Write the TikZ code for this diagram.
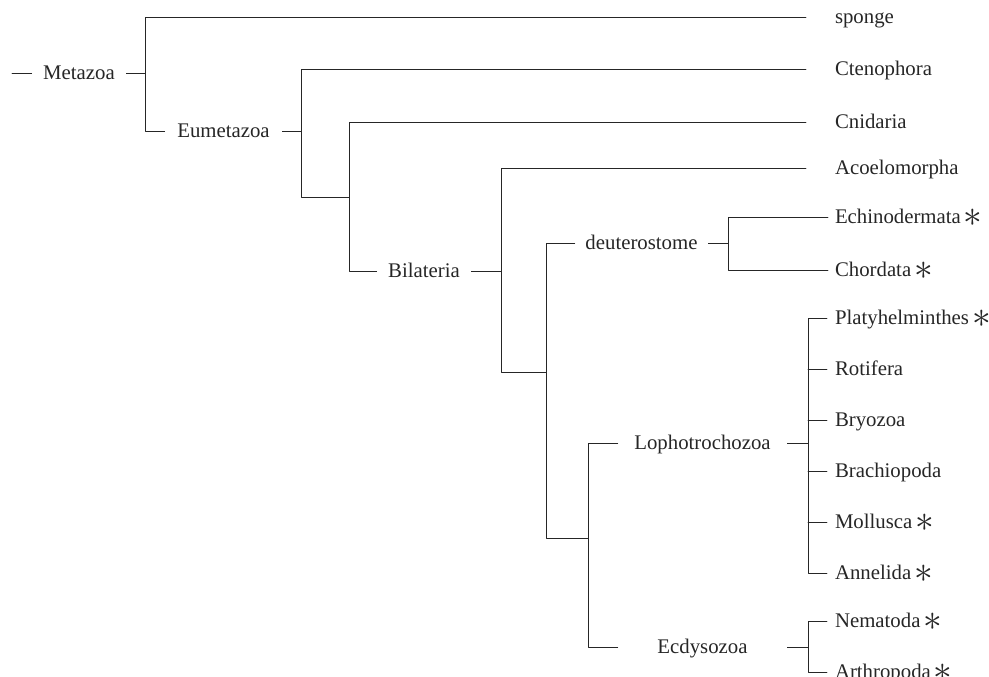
\documentclass[tikz,border=0pt]{standalone}
\usepackage{fontspec}
\setmainfont{Liberation Serif}
\tikzset{
	tip/.style={anchor=west, inner sep=0pt, outer xsep=#1, text height=13.7pt, text depth=0pt},
	clade/.style={minimum width=#1, inner xsep=0pt, inner ysep=2pt, text height=13.7pt, text depth=0pt},
}
\newcommand{\starmark}{\kern3pt\raisebox{-2.6pt}{\scalebox{1.8}{$\ast$}}}
\begin{document}
\begin{tikzpicture}[x=1pt, y=-1pt, font=\fontsize{20.8}{24}\selectfont, line join=round, line cap=round, line width=0.9pt, color=black!85]
			\useasboundingbox (0,0) rectangle (989,677);
			% inner clades
			\coordinate (root) at (12,73);
			\node[clade=94] 	(metazoa) at (79,73){Metazoa};
			\node[clade=117] 	(eumetazoa) at (223.5,131){Eumetazoa};
			\node[clade=94] 	(bilateria) at (424,271){Bilateria};
			\node[clade=133] 	(deutero) at (641.5,243){deuterostome};
			\node[clade=169] 	(lopho) at (702.5,443){Lophotrochozoa};
			\node[clade=169] 	(ecdyso) at (702.5,647){Ecdysozoa};
			% leaves
			\node[tip=29] 	(sponge) at (806,17){sponge};
			\node[tip=29] 	(cteno) at (806,69){Ctenophora};
			\node[tip=29] 	(cnid) at (806,122){Cnidaria};
			\node[tip=29] 	(acoel) at (806,168){Acoelomorpha};
			\node[tip=7] 	(echino) at (828,217){Echinodermata\starmark};
			\node[tip=7] 	(chord) at (828,270){Chordata\starmark};
			\node[tip=8] 	(platy) at (827,318){Platyhelminthes\starmark};
			\node[tip=8] 	(rotif) at (827,369){Rotifera};
			\node[tip=8] 	(bryo) at (827,420){Bryozoa};
			\node[tip=8] 	(brach) at (827,471){Brachiopoda};
			\node[tip=8] 	(moll) at (827,522){Mollusca\starmark};
			\node[tip=8] 	(annel) at (827,573){Annelida\starmark};
			\node[tip=8] 	(nemat) at (827,621){Nematoda\starmark};
			\node[tip=8] 	(arthro) at (827,672){Arthropoda\starmark};
			\draw
			(root)--(metazoa)
			(metazoa)--(145,73)
			(sponge)--(145,17)--(145,131)--(eumetazoa)
			(eumetazoa)--(301,131)
			(cteno)--(301,69)--(301,197)--(349,197)
			(cnid)--(349,122)--(349,271)--(bilateria)
			(bilateria)--(501,271)
			(acoel)--(501,168)--(501,372)--(546,372)
			(deutero)--(546,243)--(546,538)--(588,538)
			(lopho)--(588,443)--(588,647)--(ecdyso)
			(deutero)--(728,243)
			(echino)--(728,217)--(728,270)--(chord)
			(lopho)--(808,443)
			(platy)--(808,318)--(808,573)--(annel)
			(rotif)--(808,369) (bryo)--(808,420) (brach)--(808,471) (moll)--(808,522)
			(ecdyso)--(808,647)
			(nemat)--(808,621)--(808,672)--(arthro)
			;
		\end{tikzpicture}
\end{document}
